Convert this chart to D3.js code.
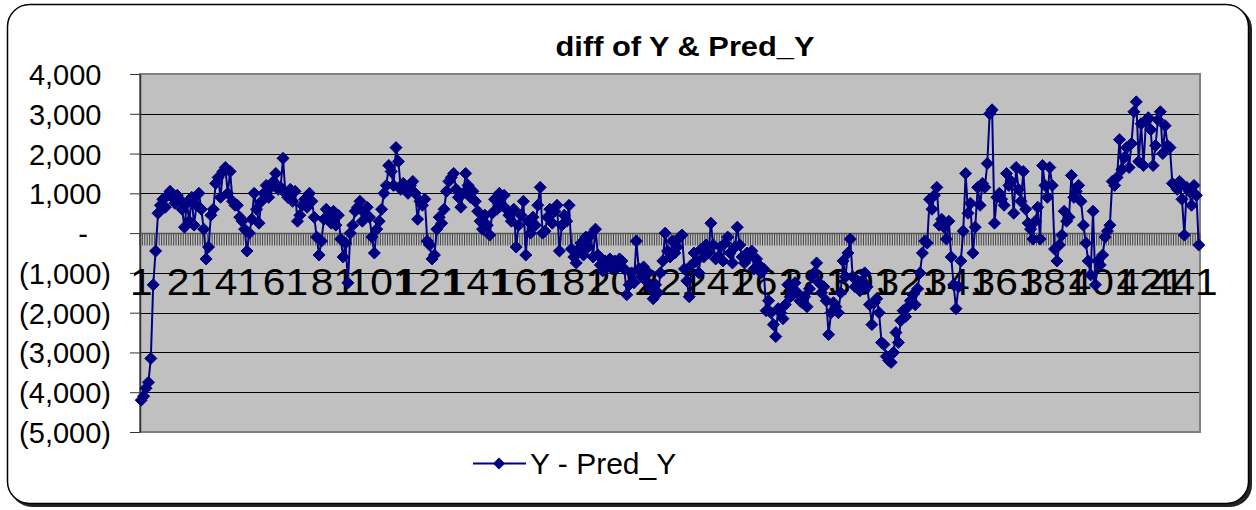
<!DOCTYPE html>
<html>
<head>
<meta charset="utf-8">
<script src="https://cdn.jsdelivr.net/npm/d3@7"></script>
<style>
  html, body { margin: 0; padding: 0; background: #fff; }
  svg { display: block; font-family: "Liberation Sans", Arial, sans-serif; }
</style>
</head>
<body>
<svg id="chart" width="1256" height="510"></svg>
<script>
// ---------- data ----------
const chartTitle = "diff of Y & Pred_Y";
const seriesName = "Y - Pred_Y";
const categories = d3.range(1, 442);
const xTickLabels = ["1","21","41","61","81","101","121","141","161","181","201","221","241","261","281","301","321","341","361","381","401","421","441"];
const yTickValues = [4000, 3000, 2000, 1000, 0, -1000, -2000, -3000, -4000, -5000];
const yTickLabels = ["4,000", "3,000", "2,000", "1,000", "-", "(1,000)", "(2,000)", "(3,000)", "(4,000)", "(5,000)"];
const diffValues = [
  -4200,-4100,-3900,-3750,-3150,-1300,-450,500,700,850,650,950,1050,900,750,950,850,600,150,750,
  300,900,200,700,1000,600,100,-650,-350,450,600,1250,1400,900,1550,1650,1000,1550,800,700,
  700,400,300,100,-450,0,350,1000,600,250,800,1000,1200,900,1150,1300,1500,1100,1150,1880,
  1000,900,1100,800,1050,300,450,700,850,650,1000,800,400,-100,-550,-200,350,600,400,250,
  550,200,450,-150,-600,-250,-1250,0,200,550,650,800,300,500,650,400,-100,-500,100,300,
  600,1000,1200,1700,1550,1200,2150,1800,1100,1250,1100,1000,1200,1300,1000,350,800,700,850,-200,
  -300,-650,-550,100,400,250,600,1050,1300,1400,1500,1100,900,650,1000,1500,1200,900,1050,800,
  550,300,100,450,200,-50,500,850,600,1000,700,950,600,450,300,600,-350,200,450,800,
  -550,300,0,400,200,700,1150,0,50,400,600,250,550,700,-450,200,450,300,700,-400,
  -600,-750,-400,-250,-550,-100,-350,-50,-600,100,-550,-800,-950,-700,-850,-650,-900,-700,-850,-650,
  -700,-900,-1550,-1300,-1000,-1250,-200,-900,-1100,-850,-1200,-1000,-1400,-1650,-1300,-1500,-1000,-700,0,-450,
  -600,-200,-500,-350,-100,-50,-900,-1200,-1600,-800,-500,-700,-1000,-400,-600,-300,-500,250,-300,-650,
  -600,-350,-700,-250,-100,-500,-750,-350,150,-300,-600,-750,-500,-600,-450,-900,-650,-800,-1000,-900,
  -1950,-1700,-2000,-2300,-2600,-1900,-2000,-2150,-1800,-1300,-1600,-1450,-1250,-1500,-1700,-1750,-1600,-1850,-1400,-1100,
  -1000,-750,-1250,-1500,-1350,-1700,-2550,-2000,-1750,-1850,-2000,-1500,-700,-1100,-500,-150,-1100,-1350,-1200,-1450,
  -1200,-1000,-1350,-1800,-2300,-1750,-1650,-2000,-2750,-2800,-3100,-3200,-3250,-3000,-2500,-2750,-2200,-1950,-2100,-1850,
  -1700,-1550,-1800,-1400,-1000,-500,-200,-250,850,600,950,1150,200,350,150,-150,300,-600,-1300,-1900,
  -1350,-700,50,1500,500,750,-500,150,1150,700,1250,1150,1750,3000,3100,250,900,1000,850,700,
  1500,1200,1300,500,1650,1100,800,1550,600,250,100,-150,300,650,-150,1700,1200,900,1650,1200,
  -400,-700,-300,-50,550,300,400,1450,900,1050,1200,800,200,-250,-700,-1050,550,-1300,-700,-800,
  -550,-100,50,200,1300,1200,1400,2350,1600,1900,2150,1650,2250,3050,3300,1800,2750,1700,2800,2900,
  2600,1700,2200,2850,3050,2000,2700,2200,2150,1250,1200,1100,1300,850,-50,1150,1050,700,1200,950,-300
];

// ---------- layout ----------
const svg = d3.select("#chart");
const plot = { left: 140, right: 1200, top: 74, bottom: 432 };
const navy = "#000080";

// outer chart frame with shadow
svg.append("rect").attr("x", 10).attr("y", 7).attr("width", 1242).attr("height", 500)
  .attr("rx", 22).attr("fill", "#222");
svg.append("rect").attr("x", 7.5).attr("y", 4.5).attr("width", 1241).attr("height", 499)
  .attr("rx", 22).attr("fill", "#fff").attr("stroke", "#000").attr("stroke-width", 1.5);

const x = d3.scaleBand().domain(categories).range([plot.left, plot.right]).padding(0);
const y = d3.scaleLinear().domain([-5000, 4000]).range([plot.bottom, plot.top]);
const cx = d => x(d) + x.bandwidth() / 2;

// plot area
svg.append("rect").attr("x", plot.left).attr("y", plot.top)
  .attr("width", plot.right - plot.left).attr("height", plot.bottom - plot.top)
  .attr("fill", "#c0c0c0");

// gridlines
svg.append("g").selectAll("line").data(yTickValues).join("line")
  .attr("x1", plot.left).attr("x2", plot.right)
  .attr("y1", d => Math.round(y(d)) + 0.5).attr("y2", d => Math.round(y(d)) + 0.5)
  .attr("stroke", "#000").attr("stroke-width", 1);

// plot border
svg.append("rect").attr("x", plot.left).attr("y", plot.top)
  .attr("width", plot.right - plot.left).attr("height", plot.bottom - plot.top)
  .attr("fill", "none").attr("stroke", "#808080").attr("stroke-width", 2);

// y axis
const yAxis = d3.axisLeft(y).tickValues(yTickValues).tickSize(10).tickSizeOuter(0)
  .tickFormat((d, i) => yTickLabels[i]);
const gy = svg.append("g").attr("transform", `translate(${plot.left},0)`).call(yAxis);
gy.select(".domain").attr("stroke", "#333").attr("stroke-width", 1.5);
gy.selectAll(".tick line").attr("stroke", "#333");
gy.selectAll(".tick text")
  .attr("font-size", 29).attr("fill", "#000")
  .attr("font-family", '"Liberation Sans", Arial, sans-serif')
  .attr("x", (d, i) => {
    const lab = yTickLabels[i];
    if (lab === "-") return -52;
    if (lab.startsWith("(")) return -29;
    return -38.5;
  })
  .attr("dy", "0.36em");

// x axis at zero: category tick marks
const zeroY = Math.round(y(0)) + 0.5;
const boundaries = categories.map(d => x(d)).concat([plot.right]);
svg.append("g").selectAll("line").data(boundaries).join("line")
  .attr("x1", d => d).attr("x2", d => d)
  .attr("y1", zeroY).attr("y2", zeroY + 12)
  .attr("stroke", "#444").attr("stroke-width", 1);
svg.append("line").attr("x1", plot.left).attr("x2", plot.right)
  .attr("y1", zeroY).attr("y2", zeroY).attr("stroke", "#555").attr("stroke-width", 1.5);

// x tick labels (the last one is pulled back inside, as in the reference)
const nLab = xTickLabels.length;
svg.append("g").selectAll("text").data(xTickLabels).join("text")
  .attr("transform", (d, i) => `translate(${cx(+d) - (i === nLab - 1 ? 15 : 0)},295) scale(1.1,1)`)
  .attr("text-anchor", "middle")
  .attr("font-size", 37).attr("fill", "#000")
  .text(d => d);

// series line
const line = d3.line().x((d, i) => cx(categories[i])).y(d => y(d));
svg.append("path").datum(diffValues)
  .attr("d", line).attr("fill", "none").attr("stroke", navy).attr("stroke-width", 2)
  .attr("stroke-linejoin", "round");

// markers
const diamond = "M0,-6L6,0L0,6L-6,0Z";
svg.append("g").selectAll("path").data(diffValues).join("path")
  .attr("d", diamond)
  .attr("transform", (d, i) => `translate(${cx(categories[i])},${y(d)})`)
  .attr("fill", navy).attr("stroke", navy).attr("stroke-width", 1);

// title
svg.append("text").attr("transform", "translate(685,56) scale(1.1,1)")
  .attr("text-anchor", "middle").attr("font-size", 28).attr("font-weight", "bold")
  .text(chartTitle);

// legend
svg.append("line").attr("x1", 473).attr("x2", 526).attr("y1", 463.5).attr("y2", 463.5)
  .attr("stroke", navy).attr("stroke-width", 2);
svg.append("path").attr("d", "M0,-6L6,0L0,6L-6,0Z").attr("transform", "translate(499,463.5)")
  .attr("fill", navy);
svg.append("text").attr("x", 530).attr("y", 474).attr("font-size", 30)
  .text(seriesName);
</script>
</body>
</html>
